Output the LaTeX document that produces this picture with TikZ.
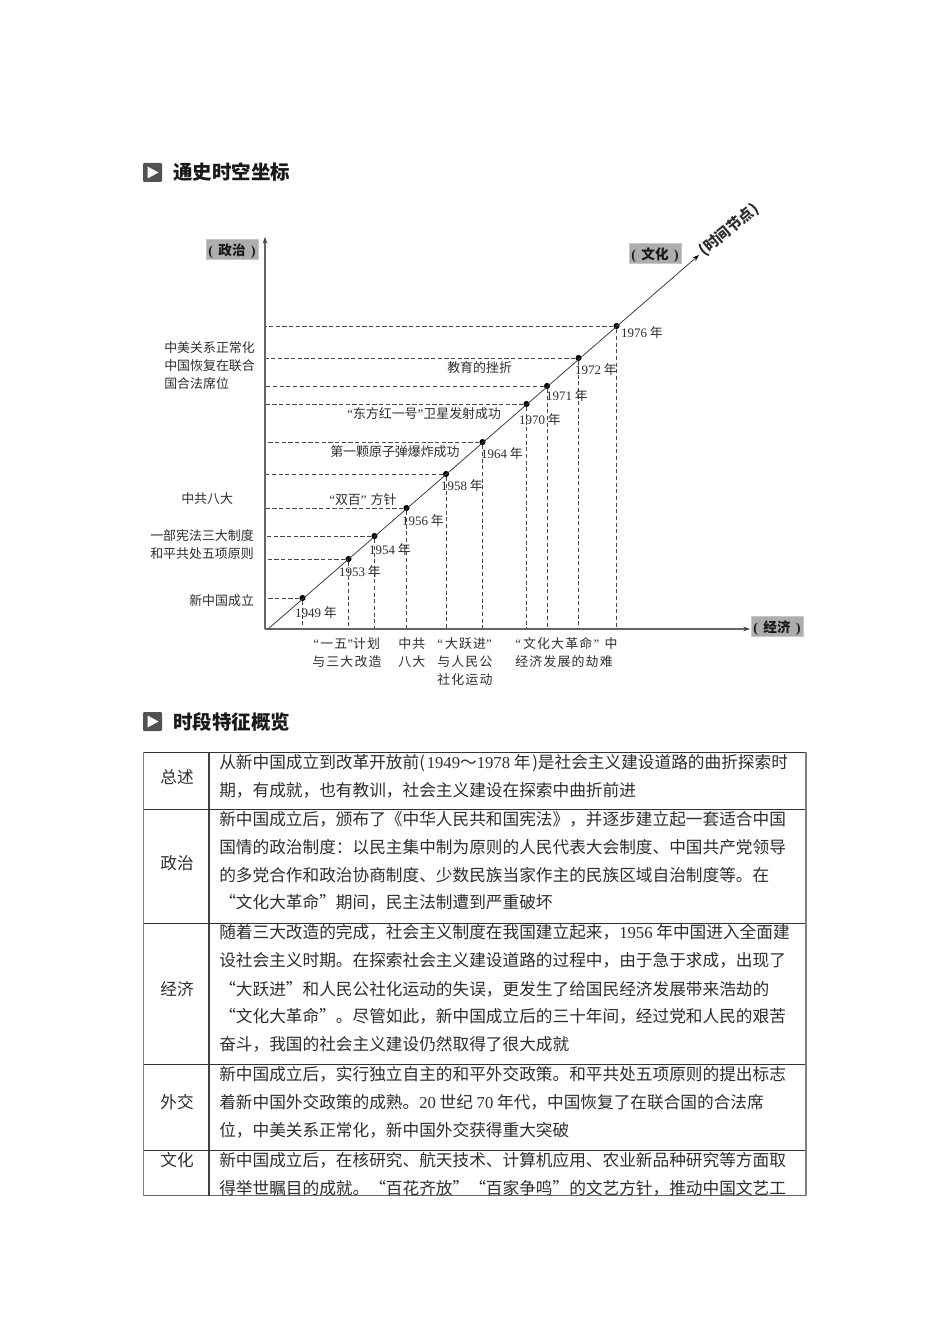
\documentclass[tikz,border=0pt]{standalone}
\usepackage{fontspec}
\setmainfont{Noto Sans CJK SC}
\newfontfamily\ltn{Liberation Serif}
\newfontfamily\widecjk[LetterSpace=9]{Noto Sans CJK SC}
\usetikzlibrary{arrows.meta}
\newcommand{\oq}{{\ltn “}}
\newcommand{\cq}{{\ltn ”}}
\newcommand{\tagtext}[1]{{\ltn (}\hspace{4.2pt}#1\hspace{4.2pt}{\ltn )}}
\tikzset{
  x=0.75pt,y=-0.75pt,
  txt/.style={inner sep=0pt,text=black!82},
  body/.style={txt,anchor=west,font=\fontsize{12.5}{14}\selectfont,text height=11pt,text depth=1.5pt},
  cat/.style={txt,anchor=center,font=\fontsize{12.5}{14}\selectfont,text height=11pt,text depth=1.5pt},
  lab/.style={txt,anchor=west,font=\fontsize{9.7}{11}\selectfont,text height=9.5pt,text depth=1.2pt},
  yearlab/.style={txt,anchor=center,font=\fontsize{9.7}{11}\selectfont,text height=9.5pt,text depth=1.2pt},
  widelab/.style={txt,anchor=west,font=\widecjk\fontsize{9.7}{11}\selectfont,text height=9.5pt,text depth=1.2pt},
  tag/.style={fill=black!32,draw=black!22,line width=.4pt,inner sep=0pt,minimum width=39pt,minimum height=15pt,text=black!90,text height=10.4pt,text depth=1.2pt,font=\bfseries\fontsize{10.2}{11}\selectfont},
  head/.style={inner sep=0pt,anchor=west,text=black!90,font=\bfseries\fontsize{14.6}{16}\selectfont},
  axis/.style={draw=black!60,line width=.9pt,-{Stealth[length=5pt,width=3.5pt,black!75]}},
  guide/.style={draw=black!72,line width=.55pt,dash pattern=on 3.1pt off 1.9pt},
  pt/.style={circle,fill=black,inner sep=0pt,minimum size=4.6pt},
  hrule/.style={draw=black!80,line width=.6pt},
  vrule/.style={draw=black!50,line width=1.1pt},
  icon/.style={fill=black!68,rounded corners=.8pt,draw=none}
}
\begin{document}
\begin{tikzpicture}
\useasboundingbox[fill=white] (0,0) rectangle (950,1344);

% headings
\fill[icon] (143,163) rectangle (162,182);
\fill[white] (147.5,166.5) -- (158.5,172.5) -- (147.5,178.5) -- cycle;
\node[head] (h1) at (173,172) {通史时空坐标};
\fill[icon] (143,712) rectangle (162,731);
\fill[white] (147.5,715.5) -- (158.5,721.5) -- (147.5,727.5) -- cycle;
\node[head] (h2) at (173,722) {时段特征概览};

% axes
\coordinate (O) at (265,629);
\coordinate (ytop) at (265,237);
\coordinate (xend) at (750,629);
\coordinate (dstart) at (268,629);
\coordinate (dend) at (699,255);

% points
\foreach \n/\x/\y in {a/302.5/598,b/348.5/559,c/374.5/536,d/406.5/508,e/446/474,f/482.5/442,g/526.5/404,h/547/386,i/578.5/358,j/616.5/326}{
  \node[pt] (\n) at (\x,\y) {};
  \draw[guide] (\n) -- (\n -| O);
  \draw[guide] (\n) -- (\n |- O);
}
\draw[axis] (O) -- (ytop);
\draw[axis] (O) -- (xend);
\draw[draw=black!75,line width=.6pt,-{Stealth[length=5pt,width=3.5pt,black]}] (dstart) -- (dend);

% tags
\node[tag] (t1) at (232,249) {\tagtext{政治}};
\node[tag] (t2) at (655,253.5) {\tagtext{文化}};
\node[tag] (t3) at (777,626) {\tagtext{经济}};
\node[txt,rotate=40,font=\bfseries\fontsize{11.2}{12}\selectfont] (t4) at (729,230) {(时间节点)};

% year labels
\node[yearlab] (y1) at (316,612) {{\ltn 1949} 年};
\node[yearlab] (y2) at (360,571) {{\ltn 1953} 年};
\node[yearlab] (y3) at (390,549) {{\ltn 1954} 年};
\node[yearlab] (y4) at (423,520) {{\ltn 1956} 年};
\node[yearlab] (y5) at (462,485) {{\ltn 1958} 年};
\node[yearlab] (y6) at (502,453) {{\ltn 1964} 年};
\node[yearlab] (y7) at (540,419) {{\ltn 1970} 年};
\node[yearlab] (y8) at (567,395) {{\ltn 1971} 年};
\node[yearlab] (y9) at (596,369) {{\ltn 1972} 年};
\node[yearlab] (y10) at (642,332) {{\ltn 1976} 年};

% culture labels
\node[lab] (m1) at (447,367) {教育的挫折};
\node[lab] (m2) at (347,413) {\oq 东方红一号\cq 卫星发射成功};
\node[lab] (m3) at (330,451) {第一颗原子弹爆炸成功};
\node[lab] (m4) at (329,499) {\oq 双百\cq\hspace{3pt}方针};

% politics labels
\node[lab] (p1) at (164,347) {中美关系正常化};
\node[lab] (p2) at (164,365) {中国恢复在联合};
\node[lab] (p3) at (164,383) {国合法席位};
\node[lab] (p4) at (181,498) {中共八大};
\node[lab] (p5) at (150,535) {一部宪法三大制度};
\node[lab] (p6) at (150,553) {和平共处五项原则};
\node[lab] (p7) at (189,600) {新中国成立};

% economy labels
\node[widelab] (e1) at (313,643) {\oq\hspace{1pt}一五\cq 计划};
\node[widelab] (e2) at (312,661) {与三大改造};
\node[widelab] (e3) at (398,643) {中共};
\node[widelab] (e4) at (398,661) {八大};
\node[widelab] (e5) at (437,643) {\oq\hspace{1.5pt}大跃进\cq};
\node[widelab] (e6) at (437,661) {与人民公};
\node[widelab] (e7) at (437,679) {社化运动};
\node[widelab] (e8) at (515,643) {\oq\hspace{1.5pt}文化大革命\hspace{1pt}\cq\hspace{4pt}中};
\node[widelab] (e9) at (515,661) {经济发展的劫难};

% table
\foreach \yy in {752,809.5,923,1064,1150}{\draw[hrule] (143,\yy) -- (806,\yy);}
\draw[draw=black!60,line width=.9pt] (143,1195.7) -- (806,1195.7);
\draw[draw=black!75,line width=.8pt] (209,752) -- (209,1195.7);
\draw[vrule] (143.5,752) -- (143.5,1196);
\draw[vrule] (806,752) -- (806,1196);

\node[cat] (c1) at (177,777) {总述};
\node[cat] (c2) at (177,863) {政治};
\node[cat] (c3) at (177,989) {经济};
\node[cat] (c4) at (177,1102) {外交};
\node[cat] (c5) at (177,1160) {文化};

\node[body] (r1) at (219,762) {从新中国成立到改革开放前(\hspace{1.4pt}{\ltn 1949}～{\ltn 1978} 年\hspace{1.4pt})是社会主义建设道路的曲折探索时};
\node[body] (r2) at (219,790) {期，有成就，也有教训，社会主义建设在探索中曲折前进};
\node[body] (r3) at (219,819) {新中国成立后，颁布了《中华人民共和国宪法》，并逐步建立起一套适合中国};
\node[body] (r4) at (219,847) {国情的政治制度：以民主集中制为原则的人民代表大会制度、中国共产党领导};
\node[body] (r5) at (219,875) {的多党合作和政治协商制度、少数民族当家作主的民族区域自治制度等。在};
\node[body] (r6) at (219,902) {“文化大革命”期间，民主法制遭到严重破坏};
\node[body] (r7) at (219,932) {随着三大改造的完成，社会主义制度在我国建立起来，{\ltn 1956} 年中国进入全面建};
\node[body] (r8) at (219,960) {设社会主义时期。在探索社会主义建设道路的过程中，由于急于求成，出现了};
\node[body] (r9) at (219,989) {“大跃进”和人民公社化运动的失误，更发生了给国民经济发展带来浩劫的};
\node[body] (r10) at (219,1016) {“文化大革命”。尽管如此，新中国成立后的三十年间，经过党和人民的艰苦};
\node[body] (r11) at (219,1044) {奋斗，我国的社会主义建设仍然取得了很大成就};
\node[body] (r12) at (219,1074) {新中国成立后，实行独立自主的和平外交政策。和平共处五项原则的提出标志};
\node[body] (r13) at (219,1102) {着新中国外交政策的成熟。{\ltn 20} 世纪 {\ltn 70} 年代，中国恢复了在联合国的合法席};
\node[body] (r14) at (219,1130) {位，中美关系正常化，新中国外交获得重大突破};
\node[body] (r15) at (219,1160) {新中国成立后，在核研究、航天技术、计算机应用、农业新品种研究等方面取};
\node[body] (r16) at (219,1188) {得举世瞩目的成就。“百花齐放”“百家争鸣”的文艺方针，推动中国文艺工};
\end{tikzpicture}
\end{document}
